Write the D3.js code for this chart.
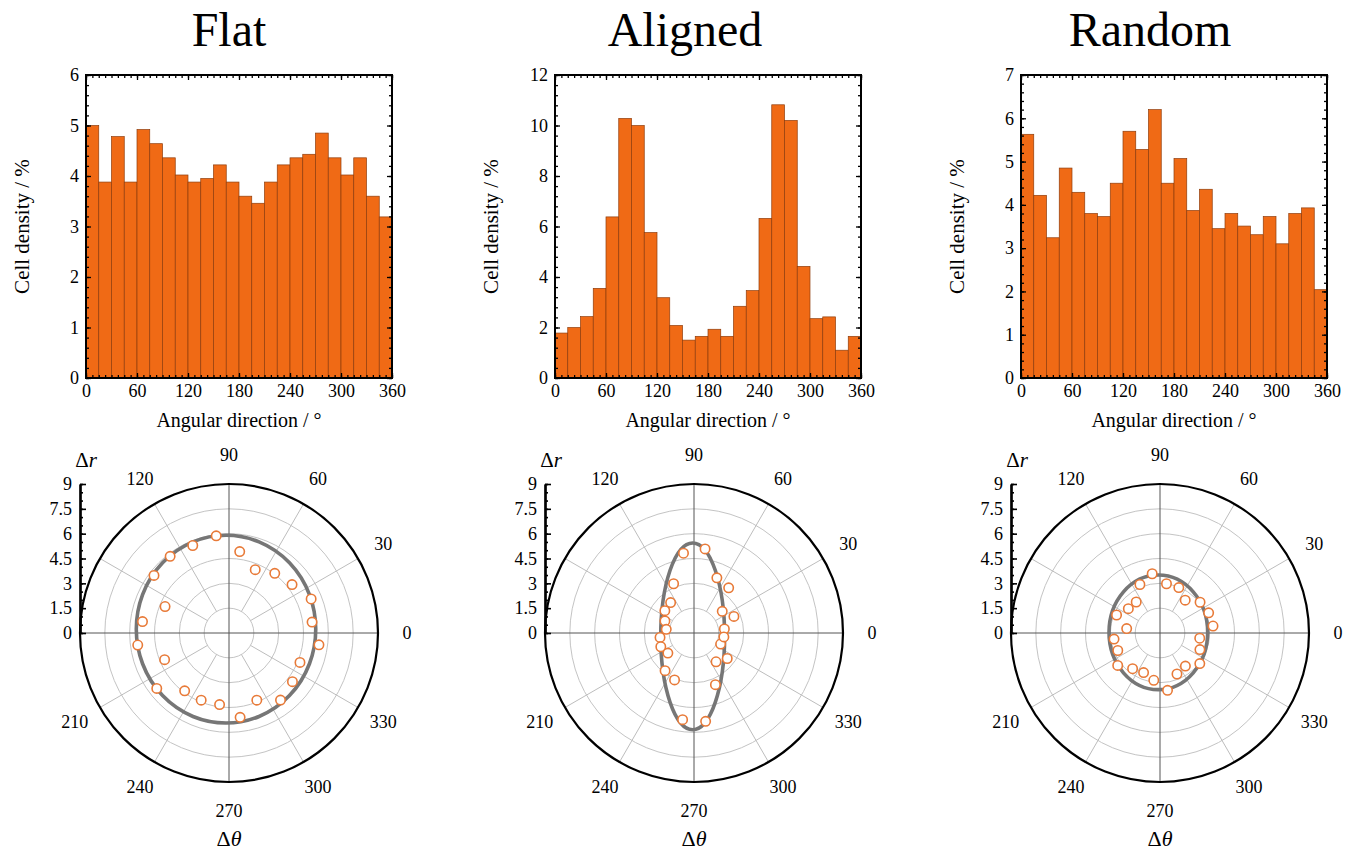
<!DOCTYPE html>
<html>
<head>
<meta charset="utf-8">
<script src="https://cdn.jsdelivr.net/npm/d3@7"></script>
<style>
  body { margin: 0; background: #fff; }
  svg { font-family: "Liberation Serif", "Times New Roman", serif; }
</style>
</head>
<body>
<svg id="fig" width="1358" height="850"></svg>
<script>
// panel names
const titles = ["Flat", "Aligned", "Random"];

// histogram bins (start of each 15 deg bin)
const binStarts = [0, 15, 30, 45, 60, 75, 90, 105, 120, 135, 150, 165,
                   180, 195, 210, 225, 240, 255, 270, 285, 300, 315, 330, 345];
const binWidth = 15;

// cell density (%) per bin
const flatDensity = [5.0, 3.88, 4.78, 3.88, 4.92, 4.64, 4.36, 4.02, 3.88, 3.95, 4.22, 3.88,
                     3.60, 3.46, 3.88, 4.22, 4.36, 4.43, 4.85, 4.36, 4.02, 4.36, 3.60, 3.19];
const alignedDensity = [1.78, 2.0, 2.43, 3.55, 6.38, 10.28, 10.0, 5.76, 3.18, 2.08, 1.5, 1.65,
                        1.93, 1.65, 2.84, 3.46, 6.32, 10.82, 10.2, 4.42, 2.35, 2.42, 1.1, 1.65];
const randomDensity = [5.63, 4.22, 3.24, 4.85, 4.29, 3.80, 3.73, 4.50, 5.70, 5.28, 6.20, 4.50,
                       5.07, 3.87, 4.36, 3.45, 3.80, 3.51, 3.31, 3.73, 3.10, 3.80, 3.93, 2.04];

// polar points: angle (bin centre, deg) and delta r
const pointAngles = [7.5, 22.5, 37.5, 52.5, 67.5, 82.5, 97.5, 112.5, 127.5, 142.5, 157.5, 172.5,
                     187.5, 202.5, 217.5, 232.5, 247.5, 262.5, 277.5, 292.5, 307.5, 322.5, 337.5, 352.5];
const flatDr = [5.06, 5.37, 4.80, 4.54, 4.14, 4.96, 5.92, 5.72, 5.84, 5.71, 4.18, 5.27,
                5.56, 4.21, 5.50, 4.40, 4.39, 4.36, 5.14, 4.39, 5.11, 4.83, 4.64, 5.48];
const alignedDr = [1.85, 2.61, 2.15, 3.44, 3.61, 5.12, 4.86, 3.22, 2.32, 2.22, 1.90, 1.69,
                   2.07, 2.17, 1.99, 2.87, 3.07, 5.28, 5.38, 3.38, 2.19, 2.53, 1.74, 1.82];
const randomDr = [3.23, 3.18, 3.05, 2.50, 2.97, 3.00, 3.61, 3.17, 2.36, 2.41, 2.84, 2.03,
                  2.80, 2.76, 3.22, 2.72, 2.59, 2.88, 3.49, 2.68, 2.52, 3.03, 2.61, 2.42];

// fitted ellipses: [centre x, centre y, semi-axis x, semi-axis y] in delta r units
const flatFit = [-0.18, 0.23, 5.42, 5.67];
const alignedFit = [-0.08, -0.2, 1.93, 5.64];
const randomFit = [-0.1, 0.04, 2.98, 3.46];

// ticks
const xTicks = [0, 60, 120, 180, 240, 300, 360];
const flatYTicks = [0, 1, 2, 3, 4, 5, 6];
const alignedYTicks = [0, 2, 4, 6, 8, 10, 12];
const randomYTicks = [0, 1, 2, 3, 4, 5, 6, 7];
const rTicks = [0, 1.5, 3, 4.5, 6, 7.5, 9];
const angleLabels = [0, 30, 60, 90, 120, 210, 240, 270, 300, 330];
const spokeAngles = [30, 60, 120, 150, 210, 240, 300, 330];

const panels = [
  { density: flatDensity, yTicks: flatYTicks, dr: flatDr, fit: flatFit },
  { density: alignedDensity, yTicks: alignedYTicks, dr: alignedDr, fit: alignedFit },
  { density: randomDensity, yTicks: randomYTicks, dr: randomDr, fit: randomFit }
];

const svg = d3.select("#fig");

// layout
const histLeft = [86, 555, 1021];
const histTop = 75, histW = 306, histH = 303;
const polarCx = [229, 694, 1160];
const polarCy = 633, R = 149;
const titleX = [229, 685, 1150];

const barFill = "#f06a15", barEdge = "#8f3d0c", dotColor = "#e87a38";
const tickFont = 18;

const drawHist = (i) => {
  const p = panels[i];
  const yMax = p.yTicks[p.yTicks.length - 1];
  const step = p.yTicks[1] - p.yTicks[0];
  const g = svg.append("g").attr("transform", `translate(${histLeft[i]},${histTop})`);

  const x = d3.scaleLinear().domain([0, 360]).range([0, histW]);
  const y = d3.scaleLinear().domain([0, yMax]).range([histH, 0]);

  g.selectAll(".bar")
    .data(binStarts)
    .enter()
    .append("rect")
    .attr("class", "bar")
    .attr("x", d => x(d))
    .attr("y", (d, k) => y(p.density[k]))
    .attr("width", x(binWidth) - x(0))
    .attr("height", (d, k) => histH - y(p.density[k]))
    .attr("fill", barFill)
    .attr("stroke", barEdge)
    .attr("stroke-width", 0.7);

  const minorX = d3.range(0, 360.1, 7.5);
  const minorY = d3.range(0, yMax + 1e-6, step / 5);

  const styleAxis = (sel) => {
    sel.select(".domain").remove();
    sel.selectAll("line").attr("stroke", "#000").attr("stroke-width", 1.3);
    sel.selectAll("text").attr("font-size", tickFont).attr("fill", "#000")
      .attr("font-family", "Liberation Serif, Times New Roman, serif");
  };

  // bottom
  g.append("g").attr("transform", `translate(0,${histH})`)
    .call(d3.axisBottom(x).tickValues(minorX).tickSizeInner(-3).tickSizeOuter(0).tickFormat(""))
    .call(styleAxis);
  g.append("g").attr("transform", `translate(0,${histH})`)
    .call(d3.axisBottom(x).tickValues(xTicks).tickSizeInner(-5).tickSizeOuter(0).tickPadding(6).tickFormat(d3.format("d")))
    .call(styleAxis);
  // top
  g.append("g")
    .call(d3.axisTop(x).tickValues(minorX).tickSizeInner(-3).tickSizeOuter(0).tickFormat(""))
    .call(styleAxis);
  g.append("g")
    .call(d3.axisTop(x).tickValues(xTicks).tickSizeInner(-5).tickSizeOuter(0).tickFormat(""))
    .call(styleAxis);
  // left
  g.append("g")
    .call(d3.axisLeft(y).tickValues(minorY).tickSizeInner(-3).tickSizeOuter(0).tickFormat(""))
    .call(styleAxis);
  g.append("g")
    .call(d3.axisLeft(y).tickValues(p.yTicks).tickSizeInner(-5).tickSizeOuter(0).tickPadding(7).tickFormat(d3.format("d")))
    .call(styleAxis);
  // right
  g.append("g").attr("transform", `translate(${histW},0)`)
    .call(d3.axisRight(y).tickValues(minorY).tickSizeInner(-3).tickSizeOuter(0).tickFormat(""))
    .call(styleAxis);
  g.append("g").attr("transform", `translate(${histW},0)`)
    .call(d3.axisRight(y).tickValues(p.yTicks).tickSizeInner(-5).tickSizeOuter(0).tickFormat(""))
    .call(styleAxis);

  // frame
  g.append("rect")
    .attr("width", histW).attr("height", histH)
    .attr("fill", "none").attr("stroke", "#000").attr("stroke-width", 2);

  // labels
  g.append("text")
    .attr("transform", `translate(-64,${histH / 2}) rotate(-90)`)
    .attr("text-anchor", "middle")
    .attr("dominant-baseline", "central")
    .attr("font-size", 21)
    .text("Cell density / %");

  g.append("text")
    .attr("x", histW / 2)
    .attr("y", 352)
    .attr("text-anchor", "middle")
    .attr("font-size", 20)
    .text("Angular direction / \u00b0");
};

const drawPolar = (i) => {
  const p = panels[i];
  const g = svg.append("g").attr("transform", `translate(${polarCx[i]},${polarCy})`);
  const r = d3.scaleLinear().domain([0, 9]).range([0, R]);
  const rad = a => (90 - a) * Math.PI / 180; // maths angle -> d3.pointRadial angle

  // rings
  g.selectAll(".ring")
    .data(rTicks.filter(d => d > 0 && d < 9))
    .enter()
    .append("circle")
    .attr("r", d => r(d))
    .attr("fill", "none")
    .attr("stroke", "#c4c4c4")
    .attr("stroke-width", 1);

  // spokes
  g.selectAll(".spoke")
    .data(spokeAngles)
    .enter()
    .append("line")
    .attr("x1", d => d3.pointRadial(rad(d), r(1.5))[0])
    .attr("y1", d => d3.pointRadial(rad(d), r(1.5))[1])
    .attr("x2", d => d3.pointRadial(rad(d), r(9))[0])
    .attr("y2", d => d3.pointRadial(rad(d), r(9))[1])
    .attr("stroke", "#bdbdbd")
    .attr("stroke-width", 1);

  // main axes
  g.selectAll(".axisline")
    .data([0, 90])
    .enter()
    .append("line")
    .attr("x1", d => d3.pointRadial(rad(d), r(9))[0])
    .attr("y1", d => d3.pointRadial(rad(d), r(9))[1])
    .attr("x2", d => d3.pointRadial(rad(d + 180), r(9))[0])
    .attr("y2", d => d3.pointRadial(rad(d + 180), r(9))[1])
    .attr("stroke", "#555")
    .attr("stroke-width", 1);

  // outer circle
  g.append("circle")
    .attr("r", r(9))
    .attr("fill", "none")
    .attr("stroke", "#000")
    .attr("stroke-width", 2.2);

  // fitted ellipse
  g.append("ellipse")
    .attr("cx", r(p.fit[0]))
    .attr("cy", -r(p.fit[1]))
    .attr("rx", r(p.fit[2]))
    .attr("ry", r(p.fit[3]))
    .attr("fill", "none")
    .attr("stroke", "#767676")
    .attr("stroke-width", 3.6);

  // data points
  g.selectAll(".pt")
    .data(pointAngles)
    .enter()
    .append("circle")
    .attr("cx", (d, k) => d3.pointRadial(rad(d), r(p.dr[k]))[0])
    .attr("cy", (d, k) => d3.pointRadial(rad(d), r(p.dr[k]))[1])
    .attr("r", 4.7)
    .attr("fill", "#fff")
    .attr("stroke", dotColor)
    .attr("stroke-width", 1.6);

  // angle labels
  g.selectAll(".alab")
    .data(angleLabels)
    .enter()
    .append("text")
    .attr("x", d => d3.pointRadial(rad(d), 178)[0])
    .attr("y", d => d3.pointRadial(rad(d), 178)[1])
    .attr("text-anchor", "middle")
    .attr("dominant-baseline", "central")
    .attr("font-size", tickFont)
    .text(d => d);

  // radial axis on the left edge
  const yr = d3.scaleLinear().domain([0, 9]).range([0, -R]);
  const ax = g.append("g").attr("transform", `translate(${-R},0)`);
  ax.append("g")
    .call(d3.axisLeft(yr).tickValues(d3.range(0, 9.01, 0.5)).tickSizeInner(-3).tickSizeOuter(0).tickFormat(""));
  ax.append("g")
    .call(d3.axisLeft(yr).tickValues(rTicks).tickSizeInner(-6).tickSizeOuter(0).tickPadding(8).tickFormat(d3.format("")));
  ax.selectAll(".domain").attr("stroke", "#000").attr("stroke-width", 2.2);
  ax.selectAll("line").attr("stroke", "#000").attr("stroke-width", 1.6);
  ax.selectAll("text").attr("font-size", tickFont).attr("fill", "#000")
    .attr("font-family", "Liberation Serif, Times New Roman, serif");

  ax.append("text")
    .attr("x", 6)
    .attr("y", -R - 17)
    .attr("text-anchor", "middle")
    .attr("font-size", 21)
    .html("\u0394<tspan font-style='italic'>r</tspan>");

  g.append("text")
    .attr("x", 0)
    .attr("y", 213)
    .attr("text-anchor", "middle")
    .attr("font-size", 22)
    .html("\u0394<tspan font-style='italic'>\u03b8</tspan>");
};

titles.forEach((t, i) => {
  svg.append("text")
    .attr("x", titleX[i])
    .attr("y", 46)
    .attr("text-anchor", "middle")
    .attr("font-size", 48)
    .text(t);
  drawHist(i);
  drawPolar(i);
});
</script>
</body>
</html>
